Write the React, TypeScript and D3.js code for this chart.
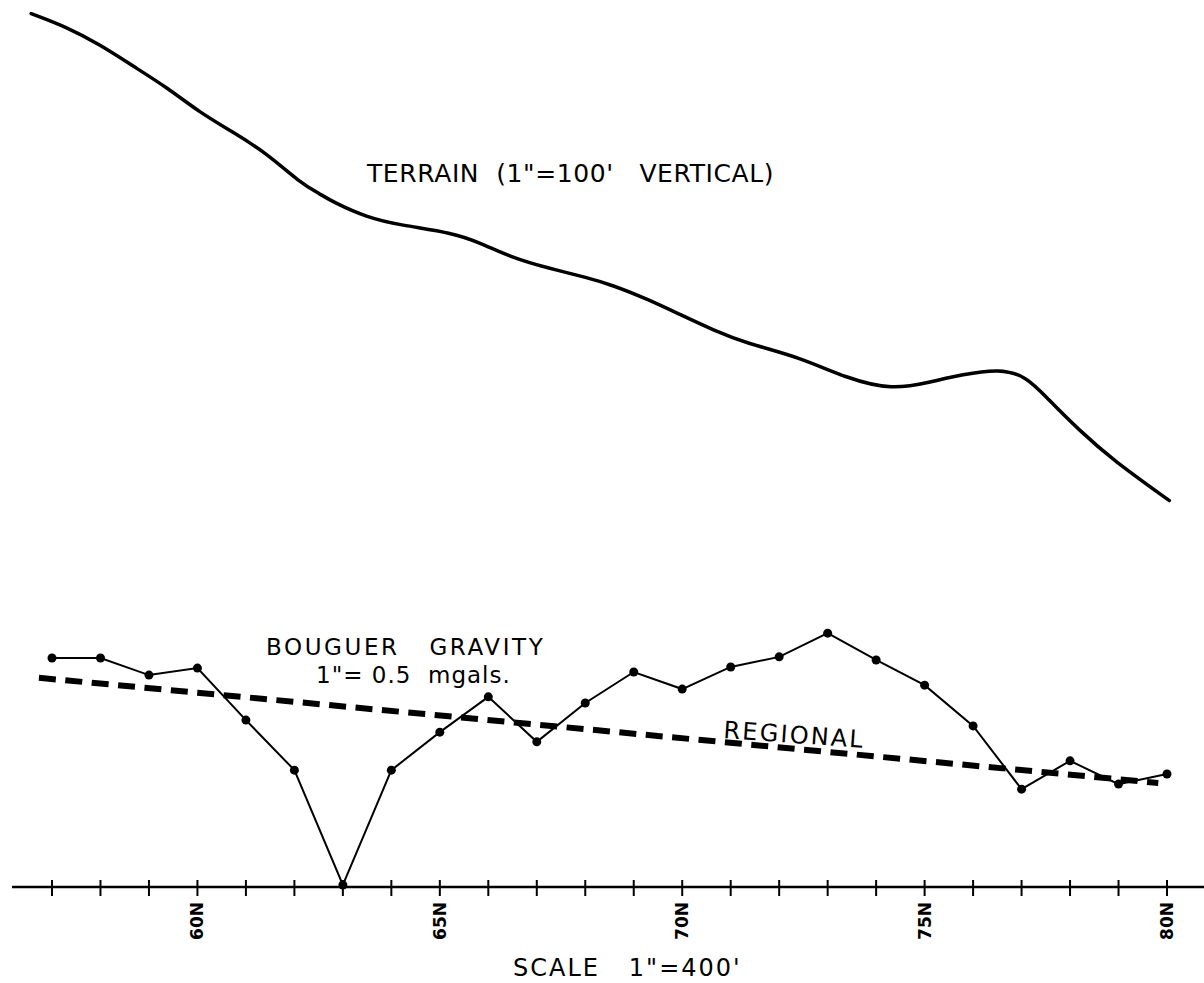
import { useRef, useEffect } from "react";
import * as d3 from "d3";

// stations (hundreds of feet north)
const stations = [57, 58, 59, 60, 61, 62, 63, 64, 65, 66, 67, 68, 69, 70, 71, 72, 73, 74, 75, 76, 77, 78, 79, 80];
const labeledStations = [60, 65, 70, 75, 80];

// bouguer gravity, mgals above the profile datum
const gravity = [
  0.585, 0.585, 0.541, 0.559, 0.425, 0.296, 0.0, 0.296, 0.394, 0.485, 0.369, 0.469,
  0.549, 0.505, 0.562, 0.588, 0.649, 0.58, 0.515, 0.41, 0.247, 0.32, 0.26, 0.286,
];

// regional trend (end points)
const regionalStations = [56.73, 79.82];
const regionalValues = [0.534, 0.263];

// terrain profile: station and elevation (feet, relative)
const terrainStations = [
  56.57, 57.31, 57.99, 58.67, 59.37, 60.05, 60.73, 61.43, 62.11, 62.53, 62.79, 63.49,
  64.18, 65.27, 65.82, 66.51, 67.21, 68.03, 68.57, 69.27, 69.95, 70.63, 71.33, 72.42,
  73.39, 74.34, 75.1, 75.78, 76.55, 77.1, 77.52, 78.2, 78.88, 80.05,
];
const terrainElev = [
  261, 254, 245, 234, 223, 210, 200, 189, 174, 168, 164, 156, 152, 148, 143, 135, 130,
  125, 121, 114, 106, 98, 91, 84, 73, 67, 71, 75, 78, 74, 63, 46, 31, 10,
];

const W = 1204;
const H = 983;
const FONT = "'DejaVu Sans', sans-serif";

const GravityProfile = () => {
  const svgRef = useRef<SVGSVGElement | null>(null);

  useEffect(() => {
    if (!svgRef.current) return;
    const svg = d3.select(svgRef.current);
    svg.selectAll("*").remove();

    const x = d3.scaleLinear().domain([57, 80]).range([52, 1167]);
    const yTerrain = d3.scaleLinear().domain([0, 260]).range([520, 15.6]);
    const yGrav = d3.scaleLinear().domain([0, 1]).range([885, 497]);
    const axisY = 887;

    // terrain
    const terrain = terrainStations.map((s, i) => [s, terrainElev[i]] as [number, number]);
    svg
      .append("path")
      .datum(terrain)
      .attr("fill", "none")
      .attr("stroke", "#000")
      .attr("stroke-width", 3.5)
      .attr("stroke-linecap", "round")
      .attr(
        "d",
        d3
          .line<[number, number]>()
          .x((d) => x(d[0]))
          .y((d) => yTerrain(d[1]))
          .curve(d3.curveBasis)
      );

    svg
      .append("text")
      .attr("x", 367)
      .attr("y", 182)
      .attr("font-family", FONT)
      .attr("font-size", 25)
      .attr("letter-spacing", 0.6)
      .style("white-space", "pre")
      .text("TERRAIN  (1\"=100'   VERTICAL)");

    // regional
    const regional = regionalStations.map((s, i) => [s, regionalValues[i]] as [number, number]);
    svg
      .append("path")
      .datum(regional)
      .attr("fill", "none")
      .attr("stroke", "#000")
      .attr("stroke-width", 6)
      .attr("stroke-dasharray", "17 9.5")
      .attr(
        "d",
        d3
          .line<[number, number]>()
          .x((d) => x(d[0]))
          .y((d) => yGrav(d[1]))
      );

    // gravity
    const grav = stations.map((s, i) => [s, gravity[i]] as [number, number]);
    svg
      .append("path")
      .datum(grav)
      .attr("fill", "none")
      .attr("stroke", "#000")
      .attr("stroke-width", 2)
      .attr(
        "d",
        d3
          .line<[number, number]>()
          .x((d) => x(d[0]))
          .y((d) => yGrav(d[1]))
      );
    svg
      .append("g")
      .selectAll("circle")
      .data(grav)
      .join("circle")
      .attr("cx", (d) => x(d[0]))
      .attr("cy", (d) => yGrav(d[1]))
      .attr("r", 4.5)
      .attr("fill", "#000");

    // axis
    svg
      .append("line")
      .attr("x1", 12)
      .attr("x2", W)
      .attr("y1", axisY)
      .attr("y2", axisY)
      .attr("stroke", "#000")
      .attr("stroke-width", 2.5);
    svg
      .append("g")
      .selectAll("line")
      .data(stations)
      .join("line")
      .attr("x1", (d) => x(d))
      .attr("x2", (d) => x(d))
      .attr("y1", axisY - 7)
      .attr("y2", axisY + 9)
      .attr("stroke", "#000")
      .attr("stroke-width", 2);
    svg
      .append("g")
      .selectAll("text")
      .data(labeledStations)
      .join("text")
      .attr("transform", (d) => `translate(${x(d)},${axisY + 15}) rotate(-90)`)
      .attr("text-anchor", "end")
      .attr("dominant-baseline", "central")
      .attr("font-family", FONT)
      .attr("font-weight", "bold")
      .attr("font-size", 17)
      .text((d) => `${d}N`);

    // labels
    const labels = [
      { t: "BOUGUER   GRAVITY", x: 266, y: 655, size: 23, ls: 2.6 },
      { t: "1\"= 0.5  mgals.", x: 316, y: 683, size: 23, ls: 1 },
      { t: "SCALE   1\"=400'", x: 513, y: 976, size: 24, ls: 2 },
    ];
    svg
      .append("g")
      .selectAll("text")
      .data(labels)
      .join("text")
      .attr("x", (d) => d.x)
      .attr("y", (d) => d.y)
      .attr("font-family", FONT)
      .attr("font-size", (d) => d.size)
      .attr("letter-spacing", (d) => d.ls)
      .style("white-space", "pre")
      .text((d) => d.t);

    svg
      .append("text")
      .attr("transform", "translate(723,738) rotate(4)")
      .attr("font-family", FONT)
      .attr("font-size", 24)
      .attr("letter-spacing", 2.2)
      .text("REGIONAL");
  }, []);

  return (
    <svg
      ref={svgRef}
      width={W}
      height={H}
      style={{ position: "absolute", left: 0, top: 0, background: "#fff" }}
    ></svg>
  );
};

export default function App() {
  return <GravityProfile />;
}
